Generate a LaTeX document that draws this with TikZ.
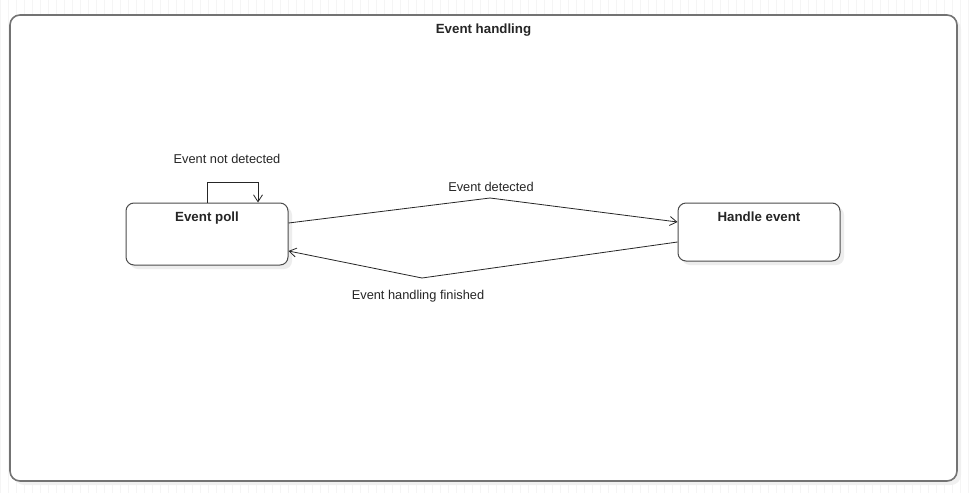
\documentclass[tikz,border=0pt]{standalone}
\usepackage{fontspec}
\setmainfont{Liberation Sans}
\usetikzlibrary{arrows.meta,shadows}

\tikzset{
  gridline/.style={draw=black!4, line width=0.6pt},
  statebox/.style={draw=black!70, line width=1pt, rounded corners=8pt, fill=white,
    minimum width=162pt, inner sep=0pt,
    drop shadow={shadow xshift=4pt, shadow yshift=-4pt, fill=black!7, opacity=1}},
  framebox/.style={draw=black!55, line width=1.6pt, rounded corners=10pt, fill=white,
    minimum width=947pt, minimum height=466pt, inner sep=0pt,
    drop shadow={shadow xshift=4pt, shadow yshift=-4pt, fill=black!6, opacity=1}},
  caption/.style={font=\fontsize{12.8}{15}\selectfont, text=black!85},
  title/.style={font=\fontsize{13.3}{15}\selectfont\bfseries, text=black!85},
  arr/.style={draw=black!85, line width=0.8pt, -{Straight Barb[length=7pt,width=9pt]}}
}

\begin{document}
\begin{tikzpicture}[x=1pt, y=-1pt]
  \useasboundingbox (0,0) rectangle (969,493);

  % Draw the background grid
  \draw[gridline, step=8] (0,0) grid (969,493);

  % Draw the outer box
  \node[framebox, label={[title, anchor=north, yshift=-6pt]north:Event handling}] (frame) at (483.5,248) {};

  % Draw the states
  \node[statebox, minimum height=62pt, label={[title, anchor=north, yshift=-6pt]north:Event poll}] (poll) at (207,234) {};
  \node[statebox, minimum height=58pt, label={[title, anchor=north, yshift=-6pt]north:Handle event}] (handle) at (759,232) {};

  % Bend points of the transitions
  \coordinate (detbend) at (490,198);
  \coordinate (finbend) at (422,278);

  % Draw the transitions
  \draw[arr] (poll.north) -- ++(0,-20) -| ([xshift=51pt]poll.north);
  \draw[arr] ([yshift=11pt]poll.east) -- (detbend) -- ([yshift=10pt]handle.west);
  \draw[arr] ([yshift=-10pt]handle.west) -- (finbend) -- ([yshift=-17pt]poll.east);

  % Transition labels
  \node[caption] (notdet) at (227,159) {Event not detected};
  \node[caption] (det) at (491,187) {Event detected};
  \node[caption] (fin) at (418,296.5) {Event handling finished};

\end{tikzpicture}
\end{document}
